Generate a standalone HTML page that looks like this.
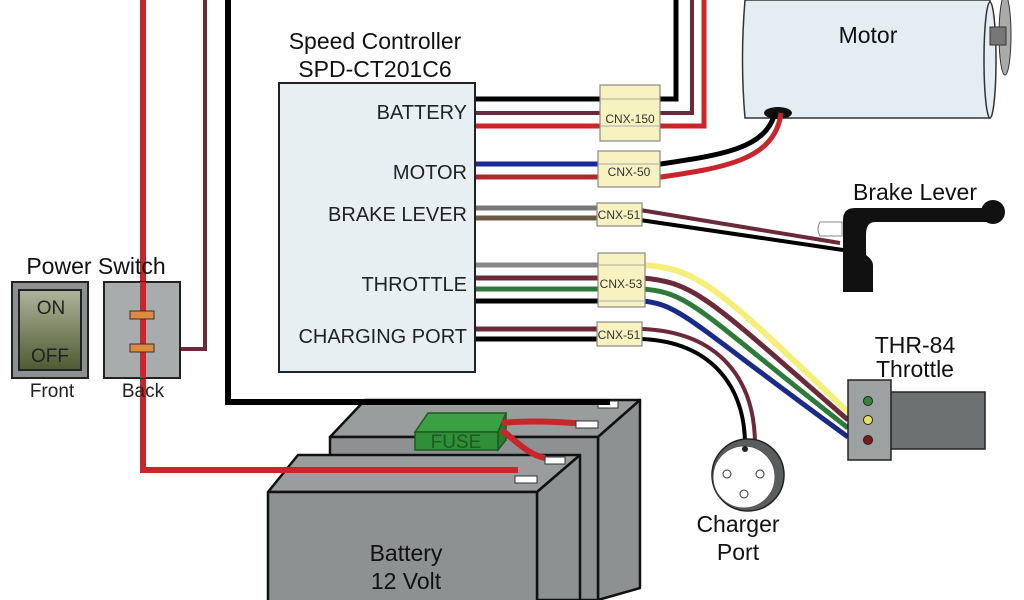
<!DOCTYPE html>
<html><head><meta charset="utf-8"><style>
html,body{margin:0;padding:0;background:#fff;}
svg{display:block;font-family:"Liberation Sans",sans-serif;}
</style></head><body>
<svg width="1024" height="600" viewBox="0 0 1024 600" xmlns="http://www.w3.org/2000/svg">
<rect width="1024" height="600" fill="#fff"/>
<g stroke="#111" stroke-width="2.5" stroke-linejoin="round">
  <polygon points="330,437 365,400 640,400 598,437" fill="#9a9d9e"/>
  <polygon points="598,437 640,400 640,588 598,600" fill="#8e9192"/>
  <polygon points="330,437 598,437 598,600 330,600" fill="#8e9192"/>
  <polygon points="268,492 298,455 580,455 537,492" fill="#9a9d9e"/>
  <polygon points="537,492 580,455 580,600 537,600" fill="#8e9192"/>
  <rect x="268" y="492" width="269" height="110" fill="#8e9192"/>
</g>
<polygon points="415,432 428,413 506,413 498,432" fill="#3aa043" stroke="#1d5a22" stroke-width="1.5"/>
<polygon points="498,432 506,413 506,440 498,450" fill="#2a7a30" stroke="#1d5a22" stroke-width="1.5"/>
<rect x="415" y="432" width="83" height="18" fill="#2e8f38" stroke="#1d5a22" stroke-width="1.5"/>
<text x="456" y="448" font-size="19" text-anchor="middle" fill="#1d5a22">FUSE</text>
<path d="M502,423 C530,420 560,422 590,424" stroke="#c8262a" stroke-width="6" fill="none"/>
<path d="M502,430 C520,445 530,455 545,458" stroke="#c8262a" stroke-width="6" fill="none"/>
<g fill="#fff" stroke="#333" stroke-width="1">
  <rect x="598" y="401" width="20" height="7"/>
  <rect x="576" y="421" width="22" height="7"/>
  <rect x="545" y="457" width="20" height="7"/>
  <rect x="515" y="476" width="22" height="7"/>
</g>
<path d="M228,0 V402 H610" stroke="#000" stroke-width="6" fill="none"/>
<path d="M143,0 V470 H518" stroke="#c8262a" stroke-width="6" fill="none"/>
<path d="M205,0 V349 H150" stroke="#6b2a3a" stroke-width="4" fill="none"/>
<text x="96" y="274" font-size="23" text-anchor="middle" fill="#111">Power Switch</text>
<rect x="12" y="282" width="76" height="96" fill="#8c9090" stroke="#222" stroke-width="2"/>
<defs><linearGradient id="sw" x1="0" y1="0" x2="0" y2="1"><stop offset="0" stop-color="#aeb49a"/><stop offset="1" stop-color="#4f5a32"/></linearGradient></defs>
<rect x="19" y="290" width="62" height="80" fill="url(#sw)" stroke="#222" stroke-width="2"/>
<text x="51" y="314" font-size="19" text-anchor="middle" fill="#222">ON</text>
<text x="50" y="362" font-size="19" text-anchor="middle" fill="#222">OFF</text>
<rect x="104" y="282" width="76" height="96" fill="#a8acad" stroke="#222" stroke-width="2"/>
<line x1="143" y1="282" x2="143" y2="378" stroke="#c8262a" stroke-width="6"/>
<rect x="130" y="311" width="24" height="8" fill="#e08a40" stroke="#333"/>
<rect x="130" y="344" width="24" height="8" fill="#e08a40" stroke="#333"/>
<text x="52" y="397" font-size="19" text-anchor="middle" fill="#222">Front</text>
<text x="143" y="397" font-size="19" text-anchor="middle" fill="#222">Back</text>
<text x="375" y="49" font-size="23" text-anchor="middle" fill="#111">Speed Controller</text>
<text x="375" y="77" font-size="23" text-anchor="middle" fill="#111">SPD-CT201C6</text>
<rect x="279" y="83" width="196" height="289" fill="#e8eff3" stroke="#222" stroke-width="2"/>
<g font-size="20" text-anchor="end" fill="#222">
<text x="467" y="119">BATTERY</text>
<text x="467" y="179">MOTOR</text>
<text x="467" y="221">BRAKE LEVER</text>
<text x="467" y="291">THROTTLE</text>
<text x="467" y="343">CHARGING PORT</text>
</g>
<path d="M476,99 H676 V0" stroke="#000" stroke-width="5" fill="none"/>
<path d="M476,113 H692 V0" stroke="#6b2a3a" stroke-width="4" fill="none"/>
<path d="M476,126 H704 V0" stroke="#c8262a" stroke-width="5" fill="none"/>
<path d="M745,0 H990 V118 H745 Q740,60 745,0 Z" fill="#e4eef2" stroke="#333" stroke-width="1.5"/>
<ellipse cx="990" cy="60" rx="6" ry="58" fill="#e4eef2" stroke="#333" stroke-width="1.5"/>
<ellipse cx="1005" cy="35" rx="6" ry="40" fill="#aaa" stroke="#333"/>
<rect x="990" y="27" width="16" height="18" fill="#777" stroke="#333"/>
<text x="868" y="43" font-size="23" text-anchor="middle" fill="#111">Motor</text>
<ellipse cx="778" cy="113" rx="14" ry="6" fill="#111"/>
<path d="M476,164 H600" stroke="#1a2a9a" stroke-width="5"/>
<path d="M476,177 H600" stroke="#b0282c" stroke-width="5"/>
<path d="M654,165 C720,155 765,150 775,113" stroke="#000" stroke-width="5" fill="none"/>
<path d="M654,178 C725,168 775,160 781,113" stroke="#c8262a" stroke-width="5" fill="none"/>
<path d="M476,208 H600" stroke="#777" stroke-width="5"/>
<path d="M476,218 H600" stroke="#6a5a40" stroke-width="5"/>
<path d="M640,210 L840,243" stroke="#6b2a3a" stroke-width="4"/>
<path d="M640,220 L843,250" stroke="#000" stroke-width="4"/>
<path d="M820,222 h22 v14 h-22 q-4,-7 0,-14z" fill="#fff" stroke="#888"/>
<path d="M855,208 H993 V222 H875 Q866,222 866,235 V255 Q873,260 873,265 V292 H843 V220 Q843,208 855,208Z" fill="#111"/>
<circle cx="993" cy="212" r="12" fill="#111"/>
<text x="915" y="200" font-size="23" text-anchor="middle" fill="#111">Brake Lever</text>
<path d="M476,265 H600" stroke="#888" stroke-width="5"/>
<path d="M476,278 H600" stroke="#6b2a3a" stroke-width="5"/>
<path d="M476,289 H600" stroke="#2e7a3a" stroke-width="5"/>
<path d="M476,301 H600" stroke="#000" stroke-width="5"/>
<path d="M642,265 C700,268 720,290 848,412" stroke="#f5ef7a" stroke-width="6" fill="none"/>
<path d="M642,278 C695,282 710,300 848,420" stroke="#6b2a3a" stroke-width="5" fill="none"/>
<path d="M642,289 C690,292 700,312 848,428" stroke="#2e7a3a" stroke-width="5" fill="none"/>
<path d="M642,301 C680,304 690,322 848,437" stroke="#1a2a8a" stroke-width="5" fill="none"/>
<path d="M476,329 H600" stroke="#6b2a3a" stroke-width="5"/>
<path d="M476,339 H600" stroke="#000" stroke-width="5"/>
<path d="M642,329 C720,332 755,380 755,445" stroke="#6b2a3a" stroke-width="4" fill="none"/>
<path d="M642,339 C710,342 745,385 745,445" stroke="#000" stroke-width="4" fill="none"/>
<g fill="#f8f2c0" stroke="#888" stroke-width="1.2">
<rect x="600" y="85" width="60" height="56"/>
<rect x="598" y="151" width="62" height="36"/>
<rect x="597" y="203" width="45" height="23"/>
<rect x="598" y="253" width="47" height="54"/>
<rect x="597" y="322" width="45" height="24"/>
</g>
<g stroke="#aaa" stroke-width="1">
<line x1="600" y1="99" x2="660" y2="99"/><line x1="600" y1="126" x2="660" y2="126"/>
<line x1="598" y1="164" x2="660" y2="164"/><line x1="598" y1="265" x2="645" y2="265"/>
<line x1="598" y1="301" x2="645" y2="301"/>
</g>
<g font-size="12" text-anchor="middle" fill="#333">
<text x="630" y="123">CNX-150</text>
<text x="629" y="176">CNX-50</text>
<text x="619" y="219">CNX-51</text>
<text x="621" y="288">CNX-53</text>
<text x="619" y="339">CNX-51</text>
</g>
<text x="915" y="353" font-size="23" text-anchor="middle" fill="#111">THR-84</text>
<text x="915" y="377" font-size="23" text-anchor="middle" fill="#111">Throttle</text>
<rect x="890" y="392" width="95" height="57" fill="#6e7172" stroke="#222" stroke-width="1.5"/>
<rect x="848" y="380" width="43" height="80" fill="#9ea1a2" stroke="#222" stroke-width="1.5"/>
<circle cx="868" cy="401" r="4.5" fill="#2e8a3a" stroke="#222"/>
<circle cx="868" cy="420" r="4.5" fill="#e8e060" stroke="#222"/>
<circle cx="868" cy="440" r="4.5" fill="#7a1a1a" stroke="#222"/>
<circle cx="748" cy="475" r="36" fill="#5a5d5e" stroke="#222" stroke-width="1.5"/>
<circle cx="744" cy="477" r="31" fill="#fff" stroke="#555"/>
<circle cx="745" cy="449" r="3" fill="#222"/>
<circle cx="727" cy="474" r="4" fill="#fff" stroke="#333"/>
<circle cx="760" cy="474" r="4" fill="#fff" stroke="#333"/>
<circle cx="744" cy="494" r="4" fill="#fff" stroke="#333"/>
<text x="738" y="532" font-size="23" text-anchor="middle" fill="#111">Charger</text>
<text x="738" y="560" font-size="23" text-anchor="middle" fill="#111">Port</text>
<text x="406" y="561" font-size="23" text-anchor="middle" fill="#111">Battery</text>
<text x="406" y="589" font-size="23" text-anchor="middle" fill="#111">12 Volt</text>
</svg>
</body></html>
